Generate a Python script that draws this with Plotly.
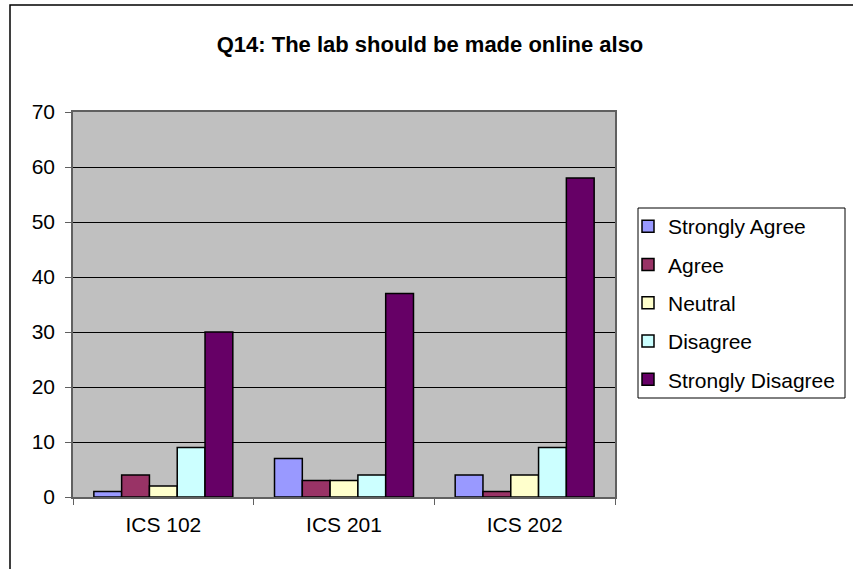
import plotly.graph_objects as go

categories = ["ICS 102", "ICS 201", "ICS 202"]
series_names = ["Strongly Agree", "Agree", "Neutral", "Disagree", "Strongly Disagree"]
strongly_agree = [1, 7, 4]
agree = [4, 3, 1]
neutral = [2, 3, 4]
disagree = [9, 4, 9]
strongly_disagree = [30, 37, 58]
colors = ["#9999FF", "#993366", "#FFFFCC", "#CCFFFF", "#660066"]
y_ticks = [0, 10, 20, 30, 40, 50, 60, 70]

series_values = [strongly_agree, agree, neutral, disagree, strongly_disagree]

W, H = 853, 569
L, R, T, B = 73, 615, 112, 497
font = "Liberation Sans, Arial, sans-serif"

fig = go.Figure()
for i, (name, vals) in enumerate(zip(series_names, series_values)):
    fig.add_trace(go.Bar(
        x=categories, y=vals, name=name, legendgroup=f"g{i}",
        marker=dict(color=colors[i], line=dict(color="black", width=1.5)),
    ))

def px_x(x):
    return (x - L) / (R - L)

def px_y(y):
    return (B - y) / (B - T)

fig.update_layout(
    width=W, height=H,
    margin=dict(l=L, r=W - R, t=T, b=H - B, pad=0, autoexpand=False),
    paper_bgcolor="white",
    plot_bgcolor="#C0C0C0",
    barmode="group",
    bargap=1.5 / 6.5,
    bargroupgap=0,
    font=dict(family=font, size=21, color="black"),
    title=dict(text="<b>Q14: The lab should be made online also</b>",
               x=430 / W, xanchor="center", y=1 - 44 / H, yanchor="middle",
               font=dict(family=font, size=22, color="black")),
    legend=dict(x=px_x(628), xanchor="left", y=px_y(206), yanchor="top",
                bgcolor="rgba(0,0,0,0)", borderwidth=0,
                traceorder="grouped", tracegroupgap=8,
                font=dict(family=font, size=21, color="black"),
                itemclick=False),
    xaxis=dict(showgrid=False, ticks="outside", tickson="boundaries", ticklen=6,
               tickcolor="#606060", showline=True, linecolor="#606060", linewidth=1.5,
               mirror=True, ticklabelstandoff=8,
               tickfont=dict(family=font, size=21)),
    yaxis=dict(range=[0, 70], tickvals=y_ticks, showgrid=True, gridcolor="black",
               gridwidth=1, zeroline=False, ticks="outside", ticklen=6,
               tickcolor="#606060", showline=True, linecolor="#606060", linewidth=1.5,
               mirror=True, ticklabelstandoff=6,
               tickfont=dict(family=font, size=21)),
    shapes=[
        dict(type="rect", xref="paper", yref="paper",
             x0=px_x(10), x1=px_x(870), y0=px_y(590), y1=px_y(5),
             line=dict(color="black", width=1.5), fillcolor="rgba(0,0,0,0)",
             layer="below"),
        dict(type="rect", xref="paper", yref="paper",
             x0=px_x(638), x1=px_x(845), y0=px_y(398), y1=px_y(208),
             line=dict(color="black", width=1), fillcolor="white",
             layer="below"),
    ],
)

fig.write_html("out.html")
